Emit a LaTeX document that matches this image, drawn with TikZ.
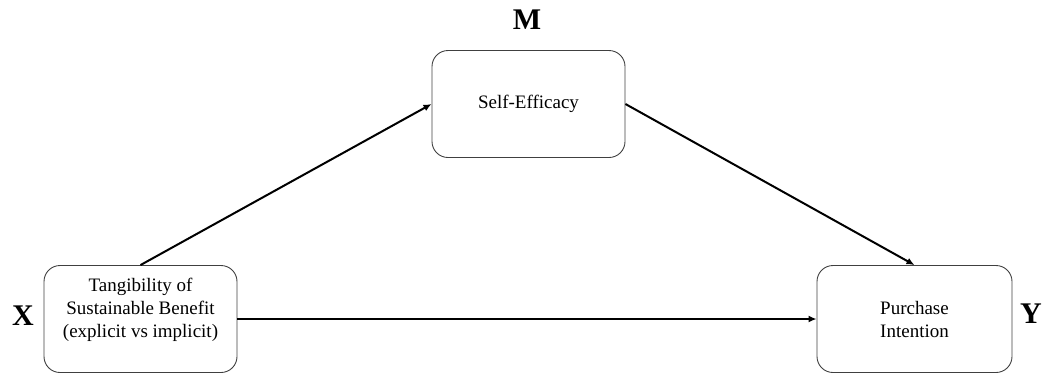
\documentclass[tikz,border=0pt]{standalone}
\usepackage{fontspec}
\setmainfont{Liberation Serif}
\usetikzlibrary{arrows.meta}

\begin{document}
\begin{tikzpicture}[x=1pt,y=-1pt,
    varbox/.style={draw=black!75,line width=0.9pt,rounded corners=16pt,
        minimum width=193pt,minimum height=107pt,align=center,
        font=\fontsize{19}{23}\selectfont},
    varlabel/.style={font=\fontsize{30}{32}\selectfont\bfseries},
    effect/.style={line width=2pt,-{Latex[length=8pt,width=7pt]}}]
            \useasboundingbox (0,0) rectangle (1050,376);
            \node[varbox] (x) at (140.5,319) {\raisebox{5pt}[0pt][0pt]{\begin{tabular}{@{}c@{}}Tangibility of\\Sustainable Benefit\\(explicit vs implicit)\end{tabular}}};
            \node[varbox] (m) at (528.5,104) {Self-Efficacy};
            \node[varbox,minimum width=195pt] (y) at (914.5,319) {Purchase\\Intention};
            \node[varlabel] (xl) at (23,316) {X};
            \node[varlabel] (ml) at (527,20) {M};
            \node[varlabel] (yl) at (1031,314) {Y};
            \draw[effect] (x.north) -- (m.west);
            \draw[effect] (m.east) -- (y.north);
            \draw[effect] (x.east) -- (y.west);
        \end{tikzpicture}
\end{document}
